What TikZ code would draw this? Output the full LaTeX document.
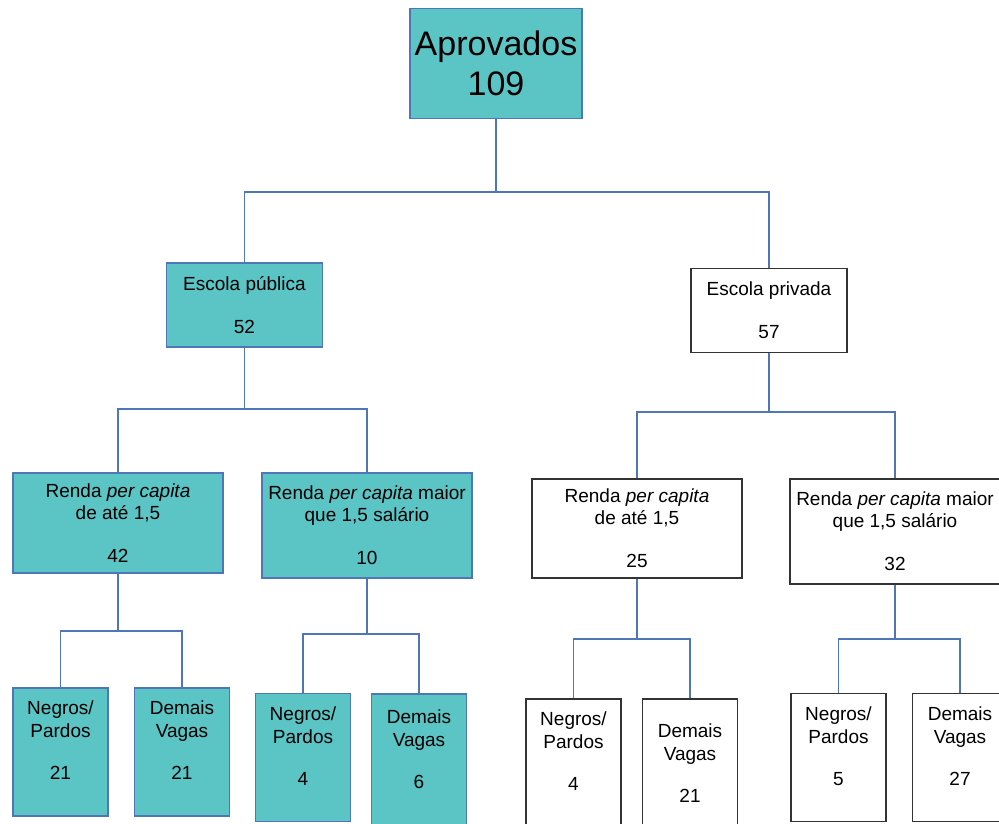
\documentclass[tikz,border=0pt]{standalone}
\usepackage{fontspec}
\setmainfont{Liberation Sans}
\usetikzlibrary{positioning}
\definecolor{boxteal}{RGB}{91,196,196}
\definecolor{linkblue}{RGB}{78,118,184}
\definecolor{boxgray}{RGB}{51,51,51}

\begin{document}
\begin{tikzpicture}[x=1pt, y=-1pt,
    box/.style={rectangle, line width=1.1pt, inner sep=0pt, align=center, text=black, font=\fontsize{19}{22}\selectfont},
    pub/.style={box, draw=linkblue, fill=boxteal},
    priv/.style={box, draw=boxgray, fill=white, line width=1.4pt},
    rootsize/.style={minimum width=172pt, minimum height=110pt, font=\fontsize{34}{40}\selectfont},
    schoolsize/.style={minimum width=156pt, minimum height=84pt},
    rendasize/.style={minimum width=210pt, minimum height=102pt},
    quotasize/.style={minimum width=95pt, minimum height=128pt, text depth=23pt, font=\fontsize{19}{23}\selectfont},
    link/.style={draw=linkblue, line width=1.2pt}
]
\useasboundingbox (0,0) rectangle (999,823);
\clip (0,0) rectangle (999,823);

% Root
\node[pub, rootsize] (root) at (496,63.5) {Aprovados\\109};

% Schools
\node[pub, schoolsize] (pub) at (244.5,305) {Escola pública\\[21pt]52};
\node[priv, schoolsize] (priv) at (769,310.5) {Escola privada\\[21pt]57};

% Income, public school
\node[pub, rendasize, minimum height=100pt] (pubLow) at (118,523) {Renda \textit{per capita}\\de até 1,5\\[21pt]42};
\node[pub, rendasize, minimum height=105pt] (pubHigh) at (367,525.5) {Renda \textit{per capita} maior\\que 1,5 salário\\[21pt]10};

% Income, private school
\node[priv, rendasize, minimum height=99pt] (privLow) at (637,528.5) {Renda \textit{per capita}\\de até 1,5\\[21pt]25};
\node[priv, rendasize, minimum height=105pt] (privHigh) at (895,531.5) {Renda \textit{per capita} maior\\que 1,5 salário\\[21pt]32};

% Quotas, public school
\node[pub, quotasize] (pubLowNP) at (60.5,752) {Negros/\\Pardos\\[19pt]21};
\node[pub, quotasize] (pubLowDV) at (182,752) {Demais\\Vagas\\[19pt]21};
\node[pub, quotasize] (pubHighNP) at (303,757.5) {Negros/\\Pardos\\[19pt]4};
\node[pub, quotasize, minimum height=134pt] (pubHighDV) at (419,761) {Demais\\Vagas\\[19pt]6};

% Quotas, private school
\node[priv, quotasize] (privLowNP) at (573.5,763) {Negros/\\Pardos\\[19pt]4};
\node[priv, quotasize, minimum height=152pt] (privLowDV) at (690,775) {Demais\\Vagas\\[19pt]21};
\node[priv, quotasize] (privHighNP) at (838.5,757.5) {Negros/\\Pardos\\[19pt]5};
\node[priv, quotasize] (privHighDV) at (960,757.5) {Demais\\Vagas\\[19pt]27};

% Junctions
\coordinate (rootJoin) at (496,192);
\coordinate (pubJoin) at (244.5,409);
\coordinate (privJoin) at (769,412);
\coordinate (pubLowJoin) at (118,631);
\coordinate (pubHighJoin) at (367,634);
\coordinate (privLowJoin) at (637,639);
\coordinate (privHighJoin) at (895,639);

% Connections
\draw[link] (root) -- (rootJoin) -| (pub);
\draw[link] (rootJoin) -| (priv);
\draw[link] (pub) -- (pubJoin) -| (pubLow);
\draw[link] (pubJoin) -| (pubHigh);
\draw[link] (priv) -- (privJoin) -| (privLow);
\draw[link] (privJoin) -| (privHigh);
\draw[link] (pubLow) -- (pubLowJoin) -| (pubLowNP);
\draw[link] (pubLowJoin) -| (pubLowDV);
\draw[link] (pubHigh) -- (pubHighJoin) -| (pubHighNP);
\draw[link] (pubHighJoin) -| (pubHighDV);
\draw[link] (privLow) -- (privLowJoin) -| (privLowNP);
\draw[link] (privLowJoin) -| (privLowDV);
\draw[link] (privHigh) -- (privHighJoin) -| (privHighNP);
\draw[link] (privHighJoin) -| (privHighDV);

\end{tikzpicture}
\end{document}
